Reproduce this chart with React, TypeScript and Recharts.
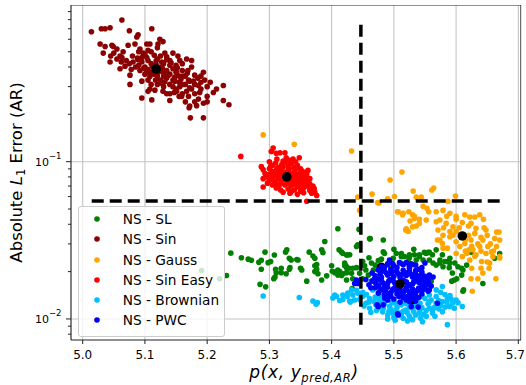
// Scatter of AR error against likelihood for several NS datasets
// Log y axis, dashed threshold lines and cluster centroids

import React from "react";
import { ScatterChart, Scatter, XAxis, YAxis, CartesianGrid, Legend } from "recharts";

type Pt = [number, number];

const xDomain = [4.9812, 5.7043];
const yDomain = [0.00735, 0.991];
const xTicks = [5.0, 5.1, 5.2, 5.3, 5.4, 5.5, 5.6, 5.7];
const yMajorTicks = [0.01, 0.1];
const yMinorTicks = [0.008, 0.009, 0.02, 0.03, 0.04, 0.05, 0.06, 0.07, 0.08, 0.09, 0.2, 0.3, 0.4, 0.5, 0.6, 0.7, 0.8, 0.9];

const seriesNames = ["NS - SL", "NS - Sin", "NS - Gauss", "NS - Sin Easy", "NS - Brownian", "NS - PWC"];
const seriesColors = ["#008000", "#8b0000", "#ffa500", "#ff0000", "#00bfff", "#0000ff"];

const slPoints: Pt[] = [
  [5.191, 0.0203], [5.220, 0.0180], [5.231, 0.0189], [5.238, 0.0262], [5.255, 0.0245], [5.266, 0.0240], [5.271, 0.0236],
  [5.283, 0.0229], [5.287, 0.0236], [5.298, 0.0228], [5.302, 0.0232], [5.287, 0.0207], [5.293, 0.0266], [5.308, 0.0255],
  [5.310, 0.0207], [5.311, 0.0197], [5.319, 0.0210], [5.319, 0.0197], [5.327, 0.0194], [5.307, 0.0180], [5.309, 0.0185],
  [5.285, 0.0166], [5.294, 0.0160], [5.328, 0.0275], [5.326, 0.0266], [5.332, 0.0243], [5.335, 0.0237], [5.344, 0.0239],
  [5.346, 0.0237], [5.333, 0.0212], [5.332, 0.0207], [5.350, 0.0210], [5.352, 0.0205], [5.364, 0.0266], [5.370, 0.0251],
  [5.373, 0.0243], [5.384, 0.0275], [5.386, 0.0264], [5.389, 0.0311], [5.373, 0.0218], [5.376, 0.0222], [5.373, 0.0200],
  [5.378, 0.0194], [5.376, 0.0207], [5.360, 0.0174], [5.384, 0.0177], [5.392, 0.0188], [5.400, 0.0218], [5.401, 0.0201],
  [5.405, 0.0197], [5.410, 0.0375], [5.412, 0.0275], [5.416, 0.0266], [5.424, 0.0255], [5.410, 0.0205], [5.413, 0.0200],
  [5.418, 0.0194], [5.424, 0.0197], [5.416, 0.0189], [5.424, 0.0177], [5.421, 0.0218], [5.428, 0.0210], [5.434, 0.0210],
  [5.440, 0.0289], [5.433, 0.0156], [5.434, 0.0180], [5.461, 0.0324], [5.483, 0.0318], [5.483, 0.0267], [5.485, 0.0261],
  [5.418, 0.0261], [5.429, 0.0256], [5.421, 0.0227], [5.424, 0.0212], [5.408, 0.0200], [5.410, 0.0190], [5.432, 0.0195],
  [5.440, 0.0212], [5.450, 0.0232], [5.453, 0.0218], [5.464, 0.0227], [5.467, 0.0205], [5.459, 0.0190], [5.464, 0.0174],
  [5.504, 0.0261], [5.512, 0.0261], [5.517, 0.0249], [5.525, 0.0256], [5.533, 0.0256], [5.541, 0.0249], [5.549, 0.0265],
  [5.557, 0.0265], [5.557, 0.0237], [5.547, 0.0237], [5.536, 0.0237], [5.523, 0.0232], [5.531, 0.0221], [5.512, 0.0226],
  [5.563, 0.0227], [5.574, 0.0227], [5.582, 0.0232], [5.590, 0.0227], [5.598, 0.0227], [5.603, 0.0215], [5.611, 0.0205],
  [5.617, 0.0220], [5.609, 0.0190], [5.601, 0.0180], [5.593, 0.0174], [5.568, 0.0220], [5.579, 0.0215], [5.611, 0.0150],
  [5.643, 0.0168], [5.662, 0.0243], [5.670, 0.0261], [5.560, 0.0174], [5.552, 0.0185], [5.444, 0.0371], [5.462, 0.0324],
  [5.500, 0.0277], [5.532, 0.0277], [5.555, 0.0265], [5.525, 0.0245], [5.512, 0.0249], [5.574, 0.0237], [5.590, 0.0243],
  [5.499, 0.0243], [5.442, 0.0296], [5.426, 0.0256], [5.423, 0.0218], [5.541, 0.0256], [5.552, 0.0261], [5.562, 0.0256],
  [5.568, 0.0275], [5.578, 0.0256], [5.586, 0.0232], [5.589, 0.0212], [5.594, 0.0196], [5.597, 0.0177], [5.612, 0.0153],
  [5.609, 0.0210], [5.624, 0.0266], [5.470, 0.0220], [5.475, 0.0235], [5.490, 0.0225], [5.495, 0.0210], [5.480, 0.0240],
  [5.460, 0.0245], [5.455, 0.0205], [5.445, 0.0195], [5.450, 0.0180],
];

const sinPoints: Pt[] = [
  [5.014, 0.670], [5.030, 0.700], [5.036, 0.700], [5.044, 0.710], [5.063, 0.796], [5.075, 0.680], [5.111, 0.700],
  [5.089, 0.640], [5.087, 0.620], [5.028, 0.560], [5.036, 0.540], [5.047, 0.550], [5.049, 0.540], [5.033, 0.490],
  [5.044, 0.430], [5.055, 0.450], [5.063, 0.460], [5.060, 0.390], [5.076, 0.355], [5.076, 0.310], [5.095, 0.254],
  [5.111, 0.247], [5.105, 0.280], [5.124, 0.600], [5.129, 0.580], [5.121, 0.560], [5.108, 0.560], [5.103, 0.560],
  [5.084, 0.560], [5.073, 0.550], [5.145, 0.490], [5.153, 0.470], [5.156, 0.440], [5.167, 0.450], [5.175, 0.440],
  [5.169, 0.380], [5.180, 0.355], [5.172, 0.325], [5.180, 0.310], [5.186, 0.305], [5.194, 0.370], [5.196, 0.330],
  [5.186, 0.250], [5.194, 0.235], [5.172, 0.226], [5.183, 0.227], [5.210, 0.275], [5.226, 0.305], [5.226, 0.245],
  [5.235, 0.230], [5.140, 0.245], [5.159, 0.260], [5.151, 0.280], [5.129, 0.280], [5.116, 0.285], [5.108, 0.290],
  [5.095, 0.325], [5.103, 0.370], [5.092, 0.380], [5.081, 0.430], [5.089, 0.445], [5.097, 0.490], [5.103, 0.460],
  [5.132, 0.490], [5.135, 0.445], [5.127, 0.430], [5.140, 0.410], [5.151, 0.370], [5.161, 0.350], [5.148, 0.325],
  [5.156, 0.300], [5.167, 0.280], [5.135, 0.340], [5.100, 0.400], [5.110, 0.420], [5.130, 0.370], [5.120, 0.350],
  [5.140, 0.360], [5.100, 0.360], [5.090, 0.410], [5.115, 0.390], [5.125, 0.400], [5.135, 0.380], [5.105, 0.440],
  [5.145, 0.330], [5.155, 0.320], [5.160, 0.380], [5.120, 0.310], [5.130, 0.300], [5.150, 0.290], [5.165, 0.310],
  [5.175, 0.290], [5.180, 0.270], [5.170, 0.260], [5.160, 0.270], [5.190, 0.290], [5.200, 0.300], [5.200, 0.260],
  [5.065, 0.500], [5.070, 0.440], [5.080, 0.470], [5.090, 0.500], [5.110, 0.500], [5.120, 0.530], [5.085, 0.400],
  [5.075, 0.420], [5.060, 0.470], [5.055, 0.520], [5.045, 0.470], [5.095, 0.460], [5.105, 0.330], [5.110, 0.310],
  [5.140, 0.310], [5.130, 0.420], [5.150, 0.410], [5.165, 0.350], [5.185, 0.340], [5.190, 0.320], [5.173, 0.190],
  [5.194, 0.190], [5.171, 0.220], [5.115, 0.360], [5.125, 0.330], [5.145, 0.390], [5.140, 0.440], [5.120, 0.450],
  [5.095, 0.430], [5.155, 0.350], [5.170, 0.330], [5.160, 0.310], [5.130, 0.350], [5.150, 0.370], [5.110, 0.370],
  [5.100, 0.480], [5.125, 0.470], [5.160, 0.420], [5.175, 0.400], [5.190, 0.350], [5.205, 0.320], [5.215, 0.290],
  [5.200, 0.240], [5.180, 0.240], [5.165, 0.240], [5.155, 0.260], [5.140, 0.270], [5.145, 0.300], [5.135, 0.270],
  [5.105, 0.385], [5.112, 0.405], [5.122, 0.372], [5.128, 0.392], [5.118, 0.415], [5.108, 0.348], [5.098, 0.392],
  [5.138, 0.355], [5.132, 0.322], [5.148, 0.345], [5.152, 0.395], [5.142, 0.425], [5.118, 0.438], [5.088, 0.455],
  [5.078, 0.385], [5.068, 0.405], [5.158, 0.335], [5.168, 0.365], [5.178, 0.325], [5.188, 0.275], [5.172, 0.295],
  [5.135, 0.465], [5.115, 0.475], [5.092, 0.520], [5.105, 0.510], [5.062, 0.430], [5.050, 0.490], [5.127, 0.315],
  [5.117, 0.330], [5.147, 0.275],
];

const gaussPoints: Pt[] = [
  [5.290, 0.148], [5.340, 0.129], [5.432, 0.117], [5.513, 0.086], [5.494, 0.0765], [5.465, 0.0622], [5.442, 0.0595],
  [5.531, 0.065], [5.536, 0.0595], [5.544, 0.0595], [5.561, 0.066], [5.564, 0.068], [5.501, 0.060], [5.490, 0.058],
  [5.474, 0.055], [5.599, 0.0605], [5.587, 0.056], [5.445, 0.049], [5.507, 0.048], [5.515, 0.047], [5.524, 0.048],
  [5.547, 0.052], [5.553, 0.0505], [5.556, 0.048], [5.526, 0.042], [5.533, 0.0435], [5.541, 0.043], [5.520, 0.0375],
  [5.523, 0.036], [5.536, 0.039], [5.568, 0.048], [5.579, 0.049], [5.590, 0.047], [5.600, 0.045], [5.614, 0.046],
  [5.622, 0.0445], [5.630, 0.0445], [5.638, 0.046], [5.644, 0.043], [5.574, 0.0426], [5.584, 0.0405], [5.595, 0.0385],
  [5.571, 0.0368], [5.579, 0.034], [5.590, 0.0333], [5.600, 0.031], [5.574, 0.0318], [5.579, 0.0282], [5.624, 0.0405],
  [5.632, 0.0377], [5.648, 0.0368], [5.665, 0.0357], [5.662, 0.0325], [5.670, 0.0318], [5.643, 0.0318], [5.638, 0.0289],
  [5.651, 0.0289], [5.665, 0.0289], [5.670, 0.0249], [5.659, 0.0249], [5.632, 0.0256], [5.641, 0.0232], [5.654, 0.0227],
  [5.622, 0.0237], [5.617, 0.0261], [5.606, 0.0289], [5.614, 0.0302], [5.624, 0.0318], [5.627, 0.0275], [5.648, 0.0261],
  [5.657, 0.0267], [5.624, 0.018], [5.664, 0.018], [5.626, 0.015], [5.670, 0.0244], [5.669, 0.0357], [5.643, 0.0196],
  [5.653, 0.021], [5.506, 0.048], [5.514, 0.046], [5.530, 0.046], [5.533, 0.045], [5.541, 0.0405], [5.552, 0.0426],
  [5.519, 0.0368], [5.530, 0.0385], [5.476, 0.0547], [5.568, 0.0415], [5.570, 0.0318], [5.578, 0.0302], [5.586, 0.0282],
  [5.600, 0.0261], [5.610, 0.0249], [5.621, 0.0275], [5.600, 0.036], [5.620, 0.034], [5.615, 0.032], [5.630, 0.035],
  [5.605, 0.038], [5.595, 0.034], [5.590, 0.036], [5.625, 0.029], [5.640, 0.033], [5.635, 0.030], [5.610, 0.041],
  [5.580, 0.038], [5.650, 0.034], [5.600, 0.043], [5.585, 0.045], [5.620, 0.039], [5.645, 0.038], [5.655, 0.030],
  [5.630, 0.025], [5.615, 0.027], [5.640, 0.027], [5.650, 0.023], [5.640, 0.021], [5.625, 0.021], [5.635, 0.018],
  [5.660, 0.027],
];

const sinEasyPoints: Pt[] = [
  [5.254, 0.108], [5.306, 0.122], [5.303, 0.116], [5.311, 0.113], [5.317, 0.114], [5.325, 0.114], [5.348, 0.106],
  [5.338, 0.104], [5.287, 0.093], [5.290, 0.089], [5.293, 0.084], [5.290, 0.078], [5.290, 0.069], [5.300, 0.100],
  [5.373, 0.064], [5.376, 0.061], [5.368, 0.063], [5.360, 0.056], [5.311, 0.068], [5.322, 0.064], [5.333, 0.063],
  [5.352, 0.066], [5.362, 0.073], [5.365, 0.078], [5.300, 0.090], [5.305, 0.095], [5.310, 0.098], [5.315, 0.092],
  [5.320, 0.096], [5.325, 0.099], [5.330, 0.094], [5.335, 0.097], [5.340, 0.092], [5.345, 0.095], [5.350, 0.090],
  [5.355, 0.086], [5.300, 0.083], [5.305, 0.087], [5.310, 0.082], [5.315, 0.086], [5.320, 0.089], [5.325, 0.085],
  [5.330, 0.088], [5.335, 0.084], [5.340, 0.087], [5.345, 0.083], [5.350, 0.085], [5.355, 0.080], [5.360, 0.083],
  [5.300, 0.076], [5.305, 0.079], [5.310, 0.075], [5.315, 0.078], [5.320, 0.081], [5.325, 0.077], [5.330, 0.080],
  [5.335, 0.076], [5.340, 0.079], [5.345, 0.075], [5.350, 0.078], [5.355, 0.074], [5.360, 0.077], [5.305, 0.071],
  [5.310, 0.073], [5.315, 0.070], [5.320, 0.074], [5.325, 0.071], [5.330, 0.073], [5.335, 0.070], [5.340, 0.072],
  [5.345, 0.069], [5.350, 0.071], [5.355, 0.068], [5.360, 0.070], [5.365, 0.068], [5.340, 0.066], [5.350, 0.065],
  [5.345, 0.062], [5.330, 0.067], [5.318, 0.066], [5.295, 0.080], [5.297, 0.073], [5.365, 0.072], [5.370, 0.070],
  [5.312, 0.104], [5.332, 0.102], [5.322, 0.101], [5.342, 0.100], [5.327, 0.106], [5.362, 0.088], [5.368, 0.066],
  [5.302, 0.0935], [5.312, 0.0905], [5.322, 0.0925], [5.332, 0.0905], [5.342, 0.0895], [5.352, 0.0875], [5.308, 0.0845],
  [5.318, 0.0835], [5.328, 0.0825], [5.338, 0.0815], [5.348, 0.0805], [5.358, 0.0785], [5.303, 0.0785], [5.313, 0.0805],
  [5.323, 0.0785], [5.333, 0.0775], [5.343, 0.0765], [5.353, 0.0755], [5.363, 0.0745], [5.308, 0.0735], [5.318, 0.0725],
  [5.328, 0.0755], [5.338, 0.0735], [5.348, 0.0725], [5.358, 0.0715], [5.335, 0.0645], [5.355, 0.0635], [5.365, 0.0655],
  [5.372, 0.0675],
];

const brownianPoints: Pt[] = [
  [5.290, 0.0140], [5.348, 0.0137], [5.370, 0.0130], [5.377, 0.0127], [5.402, 0.0136], [5.408, 0.0139], [5.413, 0.0131],
  [5.405, 0.0142], [5.418, 0.0142], [5.426, 0.0146], [5.432, 0.0153], [5.434, 0.0142], [5.429, 0.0130], [5.437, 0.0132],
  [5.375, 0.0124], [5.442, 0.0146], [5.450, 0.0139], [5.455, 0.0126], [5.461, 0.0117], [5.471, 0.0123], [5.482, 0.0111],
  [5.490, 0.0106], [5.498, 0.0109], [5.509, 0.0109], [5.519, 0.0114], [5.530, 0.0117], [5.541, 0.0109], [5.546, 0.0096],
  [5.557, 0.0117], [5.568, 0.0126], [5.578, 0.0129], [5.586, 0.0135], [5.594, 0.0126], [5.610, 0.0120], [5.586, 0.0092],
  [5.543, 0.0101], [5.525, 0.0104], [5.506, 0.0106], [5.476, 0.0132], [5.466, 0.0153], [5.461, 0.0135], [5.493, 0.0120],
  [5.503, 0.0126], [5.514, 0.0129], [5.535, 0.0132], [5.546, 0.0139], [5.557, 0.0142], [5.568, 0.0153], [5.578, 0.0161],
  [5.568, 0.0139], [5.589, 0.0120], [5.578, 0.0111], [5.562, 0.0109], [5.552, 0.0104], [5.430, 0.0128], [5.445, 0.0133],
  [5.460, 0.0128], [5.475, 0.0118], [5.485, 0.0125], [5.495, 0.0115], [5.505, 0.0118], [5.515, 0.0112], [5.525, 0.0118],
  [5.535, 0.0122], [5.545, 0.0118], [5.555, 0.0125], [5.565, 0.0118], [5.575, 0.0122], [5.585, 0.0128], [5.520, 0.0125],
  [5.500, 0.0102], [5.535, 0.0106], [5.480, 0.0128], [5.470, 0.0138], [5.440, 0.0152], [5.450, 0.0148], [5.590, 0.0141],
  [5.600, 0.0132], [5.560, 0.0132], [5.550, 0.0135], [5.515, 0.0101], [5.530, 0.0099], [5.490, 0.0100],
  [5.452, 0.0121], [5.463, 0.0110], [5.472, 0.0113], [5.483, 0.0117], [5.492, 0.0112], [5.503, 0.0113], [5.512, 0.0106],
  [5.522, 0.0109], [5.532, 0.0111], [5.542, 0.0114], [5.552, 0.0113], [5.562, 0.0114], [5.572, 0.0116], [5.582, 0.0119],
  [5.597, 0.0117], [5.487, 0.0131], [5.497, 0.0127], [5.512, 0.0123], [5.527, 0.0127], [5.542, 0.0126], [5.557, 0.0129],
  [5.572, 0.0131], [5.582, 0.0143], [5.592, 0.0134], [5.603, 0.0127], [5.447, 0.0141], [5.456, 0.0143], [5.468, 0.0129],
  [5.478, 0.0141], [5.502, 0.0098], [5.522, 0.0097], [5.548, 0.0107], [5.566, 0.0104], [5.575, 0.0148], [5.418, 0.0133],
  [5.425, 0.0139],
];

const pwcPoints: Pt[] = [
  [5.440, 0.0177], [5.437, 0.0168], [5.465, 0.0196], [5.493, 0.0237], [5.557, 0.0190], [5.563, 0.0185], [5.555, 0.0150],
  [5.557, 0.0153], [5.507, 0.0106], [5.475, 0.0120], [5.483, 0.0123], [5.528, 0.0120], [5.539, 0.0119], [5.442, 0.0168],
  [5.473, 0.0123], [5.506, 0.0108], [5.525, 0.0129], [5.570, 0.0126], [5.554, 0.0166], [5.550, 0.0227], [5.509, 0.0228],
  [5.469, 0.0180], [5.490, 0.0222], [5.500, 0.0218], [5.515, 0.0221], [5.525, 0.0216], [5.535, 0.0220], [5.475, 0.0205],
  [5.485, 0.0201], [5.495, 0.0206], [5.505, 0.0199], [5.515, 0.0204], [5.525, 0.0200], [5.535, 0.0203], [5.545, 0.0199],
  [5.470, 0.0188], [5.480, 0.0184], [5.490, 0.0190], [5.500, 0.0186], [5.510, 0.0183], [5.520, 0.0189], [5.530, 0.0185],
  [5.540, 0.0182], [5.550, 0.0187], [5.470, 0.0171], [5.480, 0.0175], [5.490, 0.0169], [5.500, 0.0173], [5.510, 0.0168],
  [5.520, 0.0172], [5.530, 0.0167], [5.540, 0.0171], [5.550, 0.0174], [5.556, 0.0169], [5.470, 0.0158], [5.480, 0.0155],
  [5.490, 0.0159], [5.500, 0.0156], [5.510, 0.0154], [5.520, 0.0158], [5.530, 0.0155], [5.540, 0.0157], [5.550, 0.0160],
  [5.475, 0.0146], [5.485, 0.0143], [5.495, 0.0147], [5.505, 0.0144], [5.515, 0.0146], [5.525, 0.0143], [5.535, 0.0146],
  [5.545, 0.0144], [5.485, 0.0136], [5.500, 0.0134], [5.515, 0.0137], [5.530, 0.0134], [5.540, 0.0137], [5.460, 0.0165],
  [5.455, 0.0178], [5.560, 0.0162], [5.545, 0.0212], [5.480, 0.0215], [5.520, 0.0228], [5.510, 0.0128], [5.535, 0.0130],
  [5.485, 0.0213], [5.495, 0.0195], [5.505, 0.0212], [5.515, 0.0193], [5.525, 0.0210], [5.535, 0.0194], [5.545, 0.0192],
  [5.475, 0.0179], [5.485, 0.0164], [5.495, 0.0178], [5.505, 0.0163], [5.515, 0.0177], [5.525, 0.0164], [5.535, 0.0178],
  [5.545, 0.0165], [5.475, 0.0163], [5.485, 0.0151], [5.495, 0.0139], [5.505, 0.0151], [5.515, 0.0140], [5.525, 0.0150],
  [5.535, 0.0139], [5.545, 0.0151], [5.555, 0.0178], [5.478, 0.0192], [5.488, 0.0196], [5.498, 0.0201], [5.508, 0.0192],
  [5.518, 0.0197], [5.528, 0.0192], [5.538, 0.0188], [5.548, 0.0180], [5.472, 0.0166], [5.482, 0.0170], [5.492, 0.0175],
  [5.502, 0.0168], [5.512, 0.0173], [5.522, 0.0167], [5.532, 0.0172], [5.542, 0.0176], [5.552, 0.0166], [5.478, 0.0152],
  [5.488, 0.0147], [5.498, 0.0153], [5.508, 0.0148], [5.518, 0.0152], [5.528, 0.0147], [5.538, 0.0152], [5.548, 0.0155],
  [5.492, 0.0141], [5.508, 0.0139], [5.522, 0.0139], [5.532, 0.0142], [5.466, 0.0175], [5.463, 0.0158], [5.498, 0.0225],
  [5.528, 0.0224], [5.540, 0.0207], [5.490, 0.0132], [5.520, 0.0132],
];

// cluster means, same order as seriesNames
const centroids: Pt[] = [
  [5.480, 0.0213], [5.118, 0.388], [5.610, 0.0337], [5.328, 0.080], [5.530, 0.0133], [5.510, 0.0167],
];

// threshold lines
const hLine: Pt[] = [[5.0145, 0.0562], [5.670, 0.0562]];
const vLine: Pt[] = [[5.447, 0.0092], [5.447, 0.80]];

const allSeries = [slPoints, sinPoints, gaussPoints, sinEasyPoints, brownianPoints, pwcPoints];

const toData = (pts: Pt[]) => pts.map(([x, y]) => ({ x, y }));

const FONT = "DejaVu Sans, sans-serif";
const DOT_R = 2.8;

const dot = (color: string, r: number) => (p: any) =>
  p.cx == null ? <g /> : <circle cx={p.cx} cy={p.cy} r={r} fill={color} />;

const XTick = (props: any) => {
  const { x, y, payload } = props;
  // last label sits on the image edge, nudge it inside
  const isLast = payload.value === xTicks[xTicks.length - 1];
  return (
    <text x={isLast ? x - 3 : x} y={y + 13} textAnchor="middle" fontFamily={FONT} fontSize={12} fill="#000">
      {Number(payload.value).toFixed(1)}
    </text>
  );
};

const YTick = (props: any) => {
  const { x, y, payload } = props;
  const v = payload.value;
  const major = yMajorTicks.some((m) => Math.abs(m - v) < 1e-9);
  const exp = Math.round(Math.log10(v));
  return (
    <g>
      <line x1={x - (major ? 5 : 3)} x2={x} y1={y} y2={y} stroke="#222" strokeWidth={1} />
      {major && (
        <text x={x - 9.5} y={y + 4} textAnchor="end" fontFamily={FONT} fontSize={11} fill="#000">
          10
          <tspan fontSize={8.5} dy={-6.5}>{"\u2212" + Math.abs(exp)}</tspan>
        </text>
      )}
    </g>
  );
};

const XTitle = (props: any) => {
  const vb = props.viewBox || { x: 71, y: 340, width: 450, height: 45 };
  return (
    <text
      x={vb.x + vb.width / 2 + 8}
      y={vb.y + 38}
      textAnchor="middle"
      fontFamily={FONT}
      fontSize={17}
      letterSpacing={0.6}
      fontStyle="italic"
      fill="#000"
    >
      p(x, y<tspan fontSize={11.5} dy={3.5}>pred,AR</tspan>
      <tspan dy={-3.5}>)</tspan>
    </text>
  );
};

const YTitle = (props: any) => {
  const vb = props.viewBox || { x: 0, y: 5, width: 71, height: 335 };
  const cy = vb.y + vb.height / 2;
  return (
    <text x={21.5} y={cy} transform={`rotate(-90, 21.5, ${cy})`} textAnchor="middle" fontFamily={FONT} fontSize={16.5} fill="#000">
      Absolute <tspan fontStyle="italic">L</tspan>
      <tspan fontSize={11.5} dy={3}>1</tspan>
      <tspan dy={-3}> Error (AR)</tspan>
    </text>
  );
};

const renderLegend = (props: any) => {
  const items = (props.payload || [])
    .filter((p: any) => p.type !== "none" && seriesNames.includes(p.value))
    .sort((a: any, b: any) => seriesNames.indexOf(a.value) - seriesNames.indexOf(b.value));
  return (
    <div
      style={{
        width: 147,
        height: 131,
        boxSizing: "border-box",
        border: "1px solid #cccccc",
        borderRadius: 3,
        background: "rgba(255,255,255,0.8)",
        position: "relative",
        fontFamily: FONT,
        fontSize: 13.7,
        color: "#000",
      }}
    >
      {items.map((item: any, i: number) => (
        <div key={item.value} style={{ position: "absolute", left: 0, top: 2.3 + i * 20.15, height: 20.15, width: 145 }}>
          <svg width={10} height={10} style={{ position: "absolute", left: 13.3, top: 5 }}>
            <circle cx={5} cy={5} r={DOT_R} fill={item.color} />
          </svg>
          <span style={{ position: "absolute", left: 43.7, top: 0, lineHeight: "20.15px", whiteSpace: "nowrap" }}>
            {item.value}
          </span>
        </div>
      ))}
    </div>
  );
};

export default function App() {
  const lineStyle = { stroke: "#000", strokeWidth: 3.5, strokeDasharray: "12 6" };
  return (
    <div style={{ position: "absolute", left: 0, top: 0, width: 526, height: 385, background: "#fff" }}>
      <ScatterChart width={526} height={385} margin={{ top: 5, right: 5, bottom: 0, left: 0 }}>
        <CartesianGrid horizontalValues={yMajorTicks} stroke="#c4c4c4" strokeWidth={1.1} />
        <XAxis
          dataKey="x"
          type="number"
          domain={xDomain}
          allowDataOverflow
          ticks={xTicks}
          interval={0}
          height={45}
          tick={<XTick />}
          tickSize={4}
          tickMargin={2}
          stroke="#222"
          label={<XTitle />}
        />
        <YAxis
          dataKey="y"
          type="number"
          scale="log"
          domain={yDomain}
          allowDataOverflow
          ticks={[...yMinorTicks, ...yMajorTicks].sort((a, b) => a - b)}
          interval={0}
          width={71}
          tick={<YTick />}
          tickLine={false}
          tickSize={0}
          tickMargin={0}
          stroke="#222"
          label={<YTitle />}
        />
        <Legend
          layout="vertical"
          align="center"
          verticalAlign="middle"
          wrapperStyle={{ left: 78, top: 206 }}
          content={renderLegend}
        />
        {allSeries.map((pts, i) => [
          <Scatter
            key={seriesNames[i]}
            name={seriesNames[i]}
            data={toData(pts)}
            fill={seriesColors[i]}
            shape={dot(seriesColors[i], DOT_R)}
            isAnimationActive={false}
          />,
          <Scatter
            key={seriesNames[i] + "-mean"}
            name={seriesNames[i] + " mean"}
            data={toData([centroids[i]])}
            fill="#000"
            legendType="none"
            shape={dot("#000", 4.8)}
            isAnimationActive={false}
          />,
        ])}
        <Scatter name="h-threshold" data={toData(hLine)} legendType="none" line={lineStyle} shape={dot("none", 0)} isAnimationActive={false} />
        <Scatter name="v-threshold" data={toData(vLine)} legendType="none" line={lineStyle} shape={dot("none", 0)} isAnimationActive={false} />
        {/* top and right frame */}
        <Scatter name="frame-top" data={toData([[xDomain[0], yDomain[1]], [xDomain[1], yDomain[1]], [xDomain[1], yDomain[0]]])} legendType="none" line={{ stroke: "#222", strokeWidth: 1.2 }} shape={dot("none", 0)} isAnimationActive={false} />
      </ScatterChart>
    </div>
  );
}
